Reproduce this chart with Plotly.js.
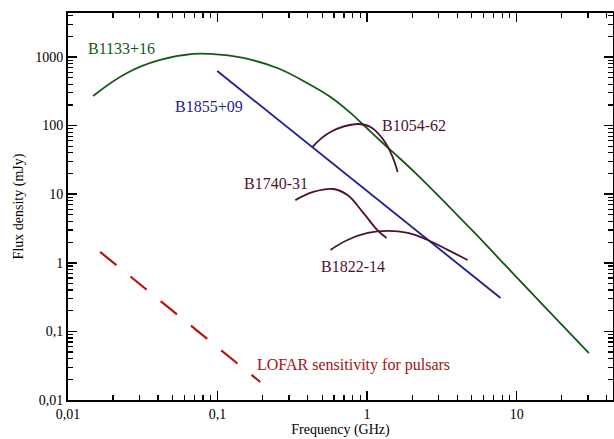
<!DOCTYPE html>
<html><head><meta charset="utf-8">
<script src="https://cdn.plot.ly/plotly-3.0.1.min.js"></script>
<style>html,body{margin:0;padding:0;background:#fff;}#chart{width:614px;height:439px;}</style>
</head><body><div id="chart"></div>
<script>
// Frequency in GHz, flux density in mJy
const b1133Freq = [0.0147, 0.0248, 0.0413, 0.0687, 0.0893, 0.1486, 0.251, 0.418, 0.569, 0.774, 0.946, 1.23, 1.67, 2.28, 5.32, 8.72, 16.4, 30.4];
const b1133Flux = [270, 585, 904, 1106, 1106, 967, 691, 391, 261, 153, 102, 59.6, 32.6, 17.2, 2.63, 0.84, 0.198, 0.0484];
const b1855Freq = [0.0995, 7.8];
const b1855Flux = [625, 0.307];
const b1054Freq = [0.43, 0.569, 0.862, 1.054, 1.288, 1.48, 1.60];
const b1054Flux = [48.7, 80.7, 105.5, 95.4, 61.7, 34.9, 21.1];
const b1740Freq = [0.331, 0.437, 0.595, 0.739, 0.946, 1.17, 1.35];
const b1740Flux = [8.2, 10.8, 11.9, 9.7, 5.3, 3.0, 2.3];
const b1822Freq = [0.569, 0.739, 1.01, 1.37, 1.87, 2.54, 3.46, 4.70];
const b1822Flux = [1.54, 2.15, 2.72, 2.91, 2.72, 2.15, 1.54, 1.10];
const lofarFreq = [0.0164, 0.193];
const lofarFlux = [1.44, 0.0183];
const tickVals = [0.01, 0.1, 1, 10, 100, 1000];
const tickText = ['0,01', '0,1', '1', '10', '100', '1000'];

const serif = 'Liberation Serif, Times New Roman, serif';
const green = '#135a13', blue = '#1c1c96', maroon = '#4d1232', red = '#b31414';

function tr(x, y, color, extra) {
  return Object.assign({x: x, y: y, mode: 'lines', type: 'scatter',
    line: {color: color, width: 1.8, shape: 'spline', smoothing: 1.2, simplify: false}, hoverinfo: 'skip'}, extra || {});
}
const data = [
  tr(b1133Freq, b1133Flux, green),
  tr(b1855Freq, b1855Flux, blue, {line: {color: blue, width: 1.8}}),
  tr(b1054Freq, b1054Flux, maroon),
  tr(b1740Freq, b1740Flux, maroon),
  tr(b1822Freq, b1822Flux, maroon),
  tr(lofarFreq, lofarFlux, red, {line: {color: red, width: 2.2, dash: '21px,18px'}})
];

function ann(text, xl, yl, color) {
  return {text: text, x: xl, y: yl, xref: 'x', yref: 'y', xanchor: 'left', yanchor: 'middle',
    showarrow: false, font: {family: serif, size: 16, color: color}};
}
const layout = {
  width: 614, height: 439,
  margin: {l: 68, r: 1, t: 13, b: 39},
  paper_bgcolor: '#fff', plot_bgcolor: '#fff',
  showlegend: false,
  font: {family: serif, color: '#000'},
  xaxis: {type: 'log', range: [-2, 1.644], tickmode: 'array', tickvals: tickVals.slice(0, 4), ticktext: tickText.slice(0, 4),
    ticks: 'inside', ticklen: 9, tickwidth: 1.5, tickcolor: '#000', showgrid: false, zeroline: false,
    showline: true, linecolor: '#000', linewidth: 2, mirror: 'ticks',
    minor: {ticks: 'inside', ticklen: 5, tickwidth: 1.2, tickcolor: '#000', dtick: 'D1', showgrid: false},
    tickfont: {family: serif, size: 14, color: '#000'},
    title: {text: 'Frequency (GHz)', font: {family: serif, size: 14, color: '#000'}, standoff: 2}},
  yaxis: {type: 'log', range: [-2, 3.641], tickmode: 'array', tickvals: tickVals, ticktext: tickText,
    ticks: 'inside', ticklen: 9, tickwidth: 1.5, tickcolor: '#000', showgrid: false, zeroline: false,
    showline: true, linecolor: '#000', linewidth: 2, mirror: 'ticks',
    minor: {ticks: 'inside', ticklen: 5, tickwidth: 1.2, tickcolor: '#000', dtick: 'D1', showgrid: false},
    tickfont: {family: serif, size: 14, color: '#000'},
    title: {text: 'Flux density (mJy)', font: {family: serif, size: 14, color: '#000'}, standoff: 8}},
  annotations: [
    ann('B1133+16', -1.879, 3.117, green),
    ann('B1855+09', -1.297, 2.271, blue),
    ann('B1740-31', -0.835, 1.163, maroon),
    ann('B1054-62', 0.083, 1.994, maroon),
    ann('B1822-14', -0.319, -0.061, maroon),
    ann('LOFAR sensitivity for pulsars', -0.747, -1.490, '#a31212')
  ]
};
Plotly.newPlot('chart', data, layout, {displayModeBar: false, staticPlot: true});
</script></body></html>
